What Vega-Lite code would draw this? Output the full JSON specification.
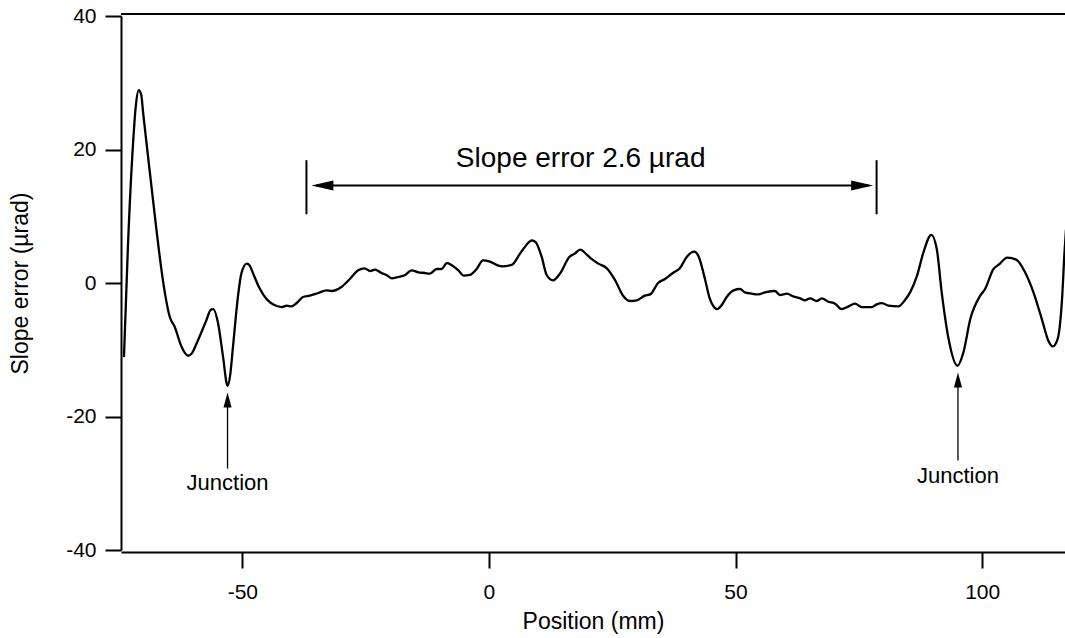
{
  "$schema": "https://vega.github.io/schema/vega-lite/v6.json",
  "width": 944,
  "height": 534,
  "autosize": {"type": "none"},
  "padding": {"left": 121, "top": 16, "right": 0, "bottom": 88},
  "background": "white",
  "config": {
    "view": {"stroke": null},
    "font": "Liberation Sans",
    "axis": {
      "domainColor": "black", "domainWidth": 2,
      "tickColor": "black", "tickWidth": 2, "tickSize": 16,
      "labelFontSize": 21, "labelColor": "black", "labelFont": "Liberation Sans",
      "titleFontSize": 23, "titleFontWeight": "normal", "titleColor": "black", "titleFont": "Liberation Sans",
      "grid": false
    }
  },
  "datasets": {
    "curve": [
      {"x": -74.0, "y": -11.1}, {"x": -73.2, "y": 5.4}, {"x": -72.2, "y": 20.4}, {"x": -71.6, "y": 26.5},
      {"x": -71.0, "y": 28.9}, {"x": -70.5, "y": 28.2}, {"x": -70.1, "y": 25.4}, {"x": -68.8, "y": 16.9},
      {"x": -67.4, "y": 7.9}, {"x": -66.1, "y": 0.4}, {"x": -64.7, "y": -5.1}, {"x": -63.7, "y": -6.6},
      {"x": -62.3, "y": -9.6}, {"x": -61.0, "y": -10.9}, {"x": -60.2, "y": -10.5}, {"x": -59.3, "y": -9.1},
      {"x": -57.3, "y": -5.6}, {"x": -56.4, "y": -4.0}, {"x": -55.9, "y": -3.9}, {"x": -54.9, "y": -6.1},
      {"x": -53.9, "y": -11.1}, {"x": -53.0, "y": -15.4}, {"x": -52.5, "y": -14.0}, {"x": -51.9, "y": -9.6},
      {"x": -50.9, "y": -2.1}, {"x": -50.2, "y": 1.4}, {"x": -49.1, "y": 2.9}, {"x": -48.5, "y": 2.6},
      {"x": -47.8, "y": 1.4}, {"x": -46.5, "y": -0.8}, {"x": -45.1, "y": -2.4}, {"x": -43.8, "y": -3.2},
      {"x": -42.0, "y": -3.6}, {"x": -41.0, "y": -3.4}, {"x": -40.0, "y": -3.5}, {"x": -39.0, "y": -3.0},
      {"x": -37.7, "y": -2.1}, {"x": -36.3, "y": -1.9}, {"x": -34.6, "y": -1.5}, {"x": -32.9, "y": -1.1},
      {"x": -31.9, "y": -1.2}, {"x": -29.9, "y": -0.6}, {"x": -28.2, "y": 0.6}, {"x": -26.5, "y": 1.9},
      {"x": -25.2, "y": 2.2}, {"x": -24.1, "y": 1.8}, {"x": -23.1, "y": 2.0}, {"x": -21.8, "y": 1.5},
      {"x": -20.8, "y": 1.2}, {"x": -19.7, "y": 0.7}, {"x": -18.4, "y": 0.9}, {"x": -17.0, "y": 1.2},
      {"x": -15.7, "y": 1.9}, {"x": -14.3, "y": 1.6}, {"x": -13.0, "y": 1.5}, {"x": -12.0, "y": 1.4},
      {"x": -10.6, "y": 2.1}, {"x": -9.6, "y": 2.1}, {"x": -8.5, "y": 3.0}, {"x": -7.6, "y": 2.7},
      {"x": -6.2, "y": 1.9}, {"x": -5.1, "y": 1.1}, {"x": -3.9, "y": 1.2}, {"x": -2.5, "y": 2.1},
      {"x": -1.2, "y": 3.4}, {"x": 0.2, "y": 3.2}, {"x": 1.9, "y": 2.6}, {"x": 2.6, "y": 2.5},
      {"x": 4.6, "y": 2.7}, {"x": 6.3, "y": 4.4}, {"x": 7.6, "y": 5.7}, {"x": 8.7, "y": 6.4},
      {"x": 9.5, "y": 6.1}, {"x": 10.7, "y": 3.9}, {"x": 11.7, "y": 1.2}, {"x": 13.0, "y": 0.4},
      {"x": 14.4, "y": 1.4}, {"x": 16.3, "y": 3.9}, {"x": 17.4, "y": 4.4}, {"x": 18.5, "y": 5.0},
      {"x": 19.8, "y": 4.3}, {"x": 20.8, "y": 3.6}, {"x": 22.2, "y": 2.9}, {"x": 23.9, "y": 2.2},
      {"x": 25.6, "y": 0.4}, {"x": 27.2, "y": -1.9}, {"x": 28.6, "y": -2.7}, {"x": 30.0, "y": -2.6},
      {"x": 31.6, "y": -1.9}, {"x": 32.7, "y": -1.7}, {"x": 34.3, "y": 0.0}, {"x": 35.7, "y": 0.6},
      {"x": 37.3, "y": 1.5}, {"x": 38.7, "y": 2.2}, {"x": 40.1, "y": 3.9}, {"x": 41.6, "y": 4.7},
      {"x": 42.5, "y": 4.0}, {"x": 43.8, "y": 0.6}, {"x": 44.8, "y": -2.4}, {"x": 46.3, "y": -3.9},
      {"x": 47.2, "y": -3.3}, {"x": 48.2, "y": -2.1}, {"x": 49.6, "y": -1.1}, {"x": 50.9, "y": -0.9},
      {"x": 51.9, "y": -1.4}, {"x": 53.3, "y": -1.6}, {"x": 54.6, "y": -1.7}, {"x": 56.0, "y": -1.4},
      {"x": 58.0, "y": -1.2}, {"x": 59.0, "y": -1.8}, {"x": 60.4, "y": -1.6}, {"x": 61.7, "y": -2.0},
      {"x": 63.1, "y": -2.3}, {"x": 64.1, "y": -2.6}, {"x": 65.1, "y": -2.3}, {"x": 66.5, "y": -2.7},
      {"x": 67.5, "y": -2.3}, {"x": 68.8, "y": -2.8}, {"x": 70.2, "y": -3.1}, {"x": 71.5, "y": -3.9},
      {"x": 72.9, "y": -3.5}, {"x": 74.2, "y": -3.1}, {"x": 75.6, "y": -3.6}, {"x": 77.6, "y": -3.6},
      {"x": 78.6, "y": -3.2}, {"x": 79.7, "y": -3.0}, {"x": 81.0, "y": -3.4}, {"x": 83.0, "y": -3.5},
      {"x": 84.4, "y": -2.5}, {"x": 85.4, "y": -1.4}, {"x": 86.8, "y": 1.1}, {"x": 88.1, "y": 4.6},
      {"x": 89.7, "y": 7.2}, {"x": 90.8, "y": 5.1}, {"x": 91.8, "y": -1.4}, {"x": 93.2, "y": -8.4},
      {"x": 95.0, "y": -12.4}, {"x": 96.2, "y": -10.4}, {"x": 97.6, "y": -5.4}, {"x": 99.6, "y": -1.9},
      {"x": 100.6, "y": -0.9}, {"x": 102.3, "y": 2.1}, {"x": 103.3, "y": 2.7}, {"x": 105.1, "y": 3.8},
      {"x": 106.9, "y": 3.5}, {"x": 108.7, "y": 1.6}, {"x": 110.4, "y": -1.4}, {"x": 112.1, "y": -5.4},
      {"x": 113.4, "y": -8.6}, {"x": 114.3, "y": -9.5}, {"x": 115.3, "y": -8.4}, {"x": 116.2, "y": -2.4},
      {"x": 116.7, "y": 4.6}, {"x": 117.0, "y": 8.0}
    ],
    "bars": [
      {"x": -37.0, "y": 10.3, "y2": 18.4},
      {"x": 78.6, "y": 10.3, "y2": 18.4}
    ],
    "span": [{"x": -35.0, "x2": 77.0, "y": 14.6}],
    "headL": [{"x": -36.0, "y": 14.6}],
    "headR": [{"x": 77.9, "y": 14.6}],
    "jlines": [
      {"x": -53.0, "y": -27.8, "y2": -18.0},
      {"x": 95.1, "y": -26.6, "y2": -15.0}
    ],
    "jheads": [
      {"x": -53.0, "y": -16.4},
      {"x": 95.1, "y": -13.4}
    ],
    "jtext": [
      {"x": -53.0, "y": -31.0, "label": "Junction"},
      {"x": 95.1, "y": -29.9, "label": "Junction"}
    ],
    "title": [{"x": 18.6, "y": 17.4, "label": "Slope error 2.6 µrad"}],
    "top": [{"y": 40.3}]
  },
  "encoding": {
    "x": {
      "field": "x", "type": "quantitative",
      "scale": {"domain": [-74.6, 116.8], "nice": false, "zero": false},
      "axis": {"values": [-50, 0, 50, 100], "labelExpr": "datum.value", "title": "Position (mm)", "labelPadding": 13, "titlePadding": 8, "offset": 2}
    },
    "y": {
      "field": "y", "type": "quantitative",
      "scale": {"domain": [-40, 40], "nice": false, "zero": false},
      "axis": {"values": [-40, -20, 0, 20, 40], "labelExpr": "datum.value", "title": "Slope error (µrad)", "labelPadding": 9, "titlePadding": 33}
    }
  },
  "layer": [
    {
      "data": {"name": "top"},
      "mark": {"type": "rule", "color": "black", "strokeWidth": 2},
      "encoding": {"x": null, "y": {"field": "y", "type": "quantitative"}}
    },
    {
      "data": {"name": "curve"},
      "mark": {"type": "line", "color": "black", "strokeWidth": 2.3, "interpolate": "monotone", "clip": true}
    },
    {
      "data": {"name": "bars"},
      "mark": {"type": "rule", "color": "black", "strokeWidth": 2},
      "encoding": {"y2": {"field": "y2"}}
    },
    {
      "data": {"name": "span"},
      "mark": {"type": "rule", "color": "black", "strokeWidth": 2},
      "encoding": {"x2": {"field": "x2"}}
    },
    {
      "data": {"name": "headL"},
      "mark": {"type": "point", "shape": "M 0 0 L 1 -0.23 L 1 0.23 Z", "size": 1936, "filled": true, "color": "black", "opacity": 1}
    },
    {
      "data": {"name": "headR"},
      "mark": {"type": "point", "shape": "M 0 0 L -1 -0.23 L -1 0.23 Z", "size": 1936, "filled": true, "color": "black", "opacity": 1}
    },
    {
      "data": {"name": "jlines"},
      "mark": {"type": "rule", "color": "black", "strokeWidth": 1.3},
      "encoding": {"y2": {"field": "y2"}}
    },
    {
      "data": {"name": "jheads"},
      "mark": {"type": "point", "shape": "M 0 0 L 0.27 1 L -0.27 1 Z", "size": 900, "filled": true, "color": "black", "opacity": 1}
    },
    {
      "data": {"name": "jtext"},
      "mark": {"type": "text", "fontSize": 22, "font": "Liberation Sans", "align": "center", "baseline": "alphabetic", "color": "black"},
      "encoding": {"text": {"field": "label"}}
    },
    {
      "data": {"name": "title"},
      "mark": {"type": "text", "fontSize": 28, "font": "Liberation Sans", "align": "center", "baseline": "alphabetic", "color": "black"},
      "encoding": {"text": {"field": "label"}}
    }
  ]
}
